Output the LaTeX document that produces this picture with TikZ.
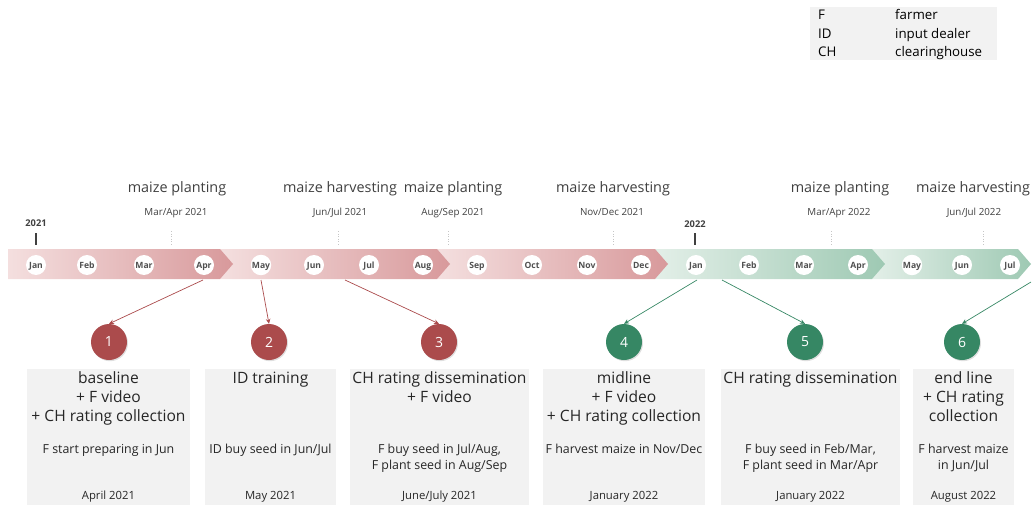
\documentclass[tikz,border=0pt]{standalone}
\usepackage{fontspec}
\setmainfont{Open Sans}
\usetikzlibrary{arrows.meta,shadows}
\definecolor{redc}{HTML}{AB4B4C}
\definecolor{greenc}{HTML}{368764}
\definecolor{redlight}{HTML}{F4DFDF}
\definecolor{reddark}{HTML}{D8999B}
\definecolor{greenlight}{HTML}{E3EFE8}
\definecolor{greendark}{HTML}{9EC9B3}
\definecolor{boxgray}{HTML}{F2F2F2}
\definecolor{txt}{HTML}{262626}
\definecolor{txtmid}{HTML}{404040}
\definecolor{monthtxt}{HTML}{505050}
\begin{document}
\begin{tikzpicture}[x=1pt,y=-1pt,
  month/.style={circle,fill=white,inner sep=0pt,minimum size=20pt,text=monthtxt,
     font=\bfseries\fontsize{8.6}{10}\selectfont,text height=1.45ex,text depth=0.3ex},
  numc/.style={circle,inner sep=0pt,minimum size=36pt,text=white,
     font=\fontsize{14}{17}\selectfont,
     drop shadow={shadow xshift=1pt,shadow yshift=-1.2pt,opacity=0.25}},
  rednum/.style={numc,fill=redc},
  greennum/.style={numc,fill=greenc},
  infobox/.style={fill=boxgray,draw=none},
  title/.style={anchor=north,inner sep=0pt,align=center,text=txt,font=\fontsize{15.6}{19}\selectfont},
  sub/.style={anchor=north,inner sep=0pt,align=center,text=txt,font=\fontsize{12.4}{16}\selectfont},
  datel/.style={anchor=base,inner sep=0pt,text=txt,font=\fontsize{11.3}{13}\selectfont},
  head/.style={anchor=base,inner sep=0pt,text=txtmid,font=\fontsize{14.4}{16}\selectfont},
  headdate/.style={anchor=base,inner sep=0pt,text=txtmid,font=\fontsize{9.8}{11}\selectfont},
  yearl/.style={anchor=base,inner sep=0pt,text=txtmid,font=\bfseries\fontsize{9.3}{11}\selectfont},
  seasonline/.style={draw=gray!45,dotted,line width=0.6pt},
  redarrow/.style={draw=redc,line width=0.7pt,-{Stealth[length=5pt,width=4.5pt]}},
  greenarrow/.style={draw=greenc,line width=0.7pt,-{Stealth[length=5pt,width=4.5pt]}},
  legend/.style={anchor=base west,inner sep=0pt,text=black,font=\fontsize{13.3}{15}\selectfont}
]
\useasboundingbox (0,0) rectangle (1032,505);

% legend
\fill[boxgray] (810,7) rectangle (997,60);
\node[legend] (lf) at (818,19.8) {F};
\node[legend] (lfv) at (895,19.8) {farmer};
\node[legend] (lid) at (818,38.2) {ID};
\node[legend] (lidv) at (895,38.2) {input dealer};
\node[legend] (lch) at (818,56.6) {CH};
\node[legend] (lchv) at (895,56.6) {clearinghouse};

% timeline band segments (drawn back to front)
\shade[left color=greenlight,right color=greendark] (872,249) -- (1018,249) -- (1031,264) -- (1018,279) -- (872,279) -- cycle;
\shade[left color=greenlight,right color=greendark] (655,249) -- (872,249) -- (885,264) -- (872,279) -- (655,279) -- cycle;
\shade[left color=redlight,right color=reddark] (437,249) -- (655,249) -- (668,264) -- (655,279) -- (437,279) -- cycle;
\shade[left color=redlight,right color=reddark] (220,249) -- (437,249) -- (450,264) -- (437,279) -- (220,279) -- cycle;
\shade[left color=redlight,right color=reddark] (8,249) -- (220,249) -- (233,264) -- (220,279) -- (8,279) -- cycle;

% months
\foreach \n/\x/\t in {1/36/Jan,2/87/Feb,3/144/Mar,4/204/Apr,5/261/May,6/314/Jun,7/369/Jul,8/423/Aug,9/477/Sep,10/532/Oct,11/587/Nov,12/641/Dec,13/696/Jan,14/749/Feb,15/804/Mar,16/858/Apr,17/912/May,18/962/Jun,19/1010/Jul}
  \node[month] (m\n) at (\x,265) {\t};

% years
\node[yearl] (y21) at (36,226.5) {2021};
\draw[txtmid,line width=1.1pt] (36,233) -- (36,245);
\node[yearl] (y22) at (695,227.5) {2022};
\draw[txtmid,line width=1.1pt] (695,233) -- (695,245);

% season markers
\foreach \x in {171,338,448,613,831,983}
  \draw[seasonline] (\x,231) -- (\x,246);
\node[head] (h1) at (177,192) {maize planting};
\node[headdate] (hd1) at (176,215) {Mar/Apr 2021};
\node[head] (h2) at (340,192) {maize harvesting};
\node[headdate] (hd2) at (340,215) {Jun/Jul 2021};
\node[head] (h3) at (453,192) {maize planting};
\node[headdate] (hd3) at (453,215) {Aug/Sep 2021};
\node[head] (h4) at (613,192) {maize harvesting};
\node[headdate] (hd4) at (612,215) {Nov/Dec 2021};
\node[head] (h5) at (840,192) {maize planting};
\node[headdate] (hd5) at (839,215) {Mar/Apr 2022};
\node[head] (h6) at (973,192) {maize harvesting};
\node[headdate] (hd6) at (974,215) {Jun/Jul 2022};

% info boxes
\fill[infobox] (27,369) rectangle (190,505);
\fill[infobox] (205,369) rectangle (336,505);
\fill[infobox] (350,369) rectangle (529,505);
\fill[infobox] (543,369) rectangle (705,505);
\fill[infobox] (721,369) rectangle (900,505);
\fill[infobox] (913,369) rectangle (1014,505);

% numbered circles
\node[rednum] (c1) at (109,342) {1};
\node[rednum] (c2) at (269,342) {2};
\node[rednum] (c3) at (439,342) {3};
\node[greennum] (c4) at (624,342) {4};
\node[greennum] (c5) at (805,342) {5};
\node[greennum] (c6) at (962,342) {6};

% arrow start points
\coordinate (a1) at (203,280);
\coordinate (a2) at (261,280);
\coordinate (a3) at (345,280);
\coordinate (a4) at (697,280);
\coordinate (a5) at (722,280);
\coordinate (a6) at (1031,282);
\draw[redarrow] (a1) -- (c1.north);
\draw[redarrow] (a2) -- (c2.north);
\draw[redarrow] (a3) -- (c3.north);
\draw[greenarrow] (a4) -- (c4.north);
\draw[greenarrow] (a5) -- (c5.north);
\draw[greenarrow] (a6) -- (c6.north);

% box texts
\node[title] (t1) at (108.5,369.7) {\strut baseline\\\strut + F video\\\strut + CH rating collection};
\node[sub] (s1) at (108.5,442) {\strut F start preparing in Jun};
\node[datel] (d1) at (108.5,499) {April 2021};

\node[title] (t2) at (270.5,369.7) {\strut ID training};
\node[sub] (s2) at (270.5,442) {\strut ID buy seed in Jun/Jul};
\node[datel] (d2) at (270.5,499) {May 2021};

\node[title] (t3) at (439.5,369.7) {\strut CH rating dissemination\\\strut + F video};
\node[sub] (s3) at (439.5,442) {\strut F buy seed in Jul/Aug,\\\strut F plant seed in Aug/Sep};
\node[datel] (d3) at (439.5,499) {June/July 2021};

\node[title] (t4) at (624,369.7) {\strut midline\\\strut + F video\\\strut + CH rating collection};
\node[sub] (s4) at (624,442) {\strut F harvest maize in Nov/Dec};
\node[datel] (d4) at (624,499) {January 2022};

\node[title] (t5) at (810.5,369.7) {\strut CH rating dissemination};
\node[sub] (s5) at (810.5,442) {\strut F buy seed in Feb/Mar,\\\strut F plant seed in Mar/Apr};
\node[datel] (d5) at (810.5,499) {January 2022};

\node[title] (t6) at (963.5,369.7) {\strut end line\\\strut + CH rating\\\strut collection};
\node[sub] (s6) at (963.5,442) {\strut F harvest maize\\\strut in Jun/Jul};
\node[datel] (d6) at (963.5,499) {August 2022};
\end{tikzpicture}
\end{document}
